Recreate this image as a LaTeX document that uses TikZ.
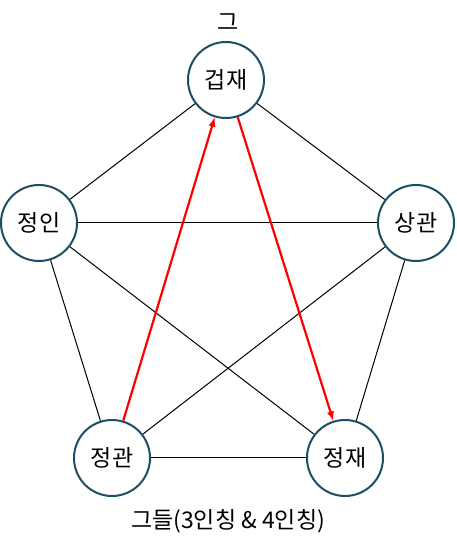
\documentclass[tikz,border=0pt]{standalone}
\usepackage{fontspec}
\setmainfont{Noto Sans CJK KR}
\definecolor{ringteal}{HTML}{1D4E63}
\begin{document}
\begin{tikzpicture}[x=1pt,y=1pt]
        \useasboundingbox (0,0) rectangle (456,554);

        \begin{scope}[every node/.style={circle,draw=ringteal,line width=2pt,fill=white,minimum size=76pt,inner sep=0pt,font=\fontsize{23}{23}\selectfont}]
          \node (geop)      at (226,474) {겁재};
          \node (jeongin)   at (39,331)  {정인};
          \node (sanggwan)  at (416,331) {상관};
          \node (jeonggwan) at (112,96)  {정관};
          \node (jeongjae)  at (345,96)  {정재};
        \end{scope}

        \node[font=\fontsize{23}{23}\selectfont] (him)  at (228,532) {그};
        \node[font=\fontsize{23}{23}\selectfont] (them) at (228,33)  {그들(3인칭 \& 4인칭)};

        \begin{scope}[every edge/.style={draw,line width=1pt}]
          \path (jeongin)   edge (geop);
          \path (geop)      edge (sanggwan);
          \path (jeongin)   edge (sanggwan);
          \path (jeongin)   edge (jeonggwan);
          \path (jeongin)   edge (jeongjae);
          \path (sanggwan)  edge (jeonggwan);
          \path (sanggwan)  edge (jeongjae);
          \path (jeonggwan) edge (jeongjae);
        \end{scope}

        \begin{scope}[every edge/.style={draw=red,line width=2.2pt,-latex}]
          \path (jeonggwan) edge (geop);
          \path (geop)      edge (jeongjae);
        \end{scope}

      \end{tikzpicture}
\end{document}
